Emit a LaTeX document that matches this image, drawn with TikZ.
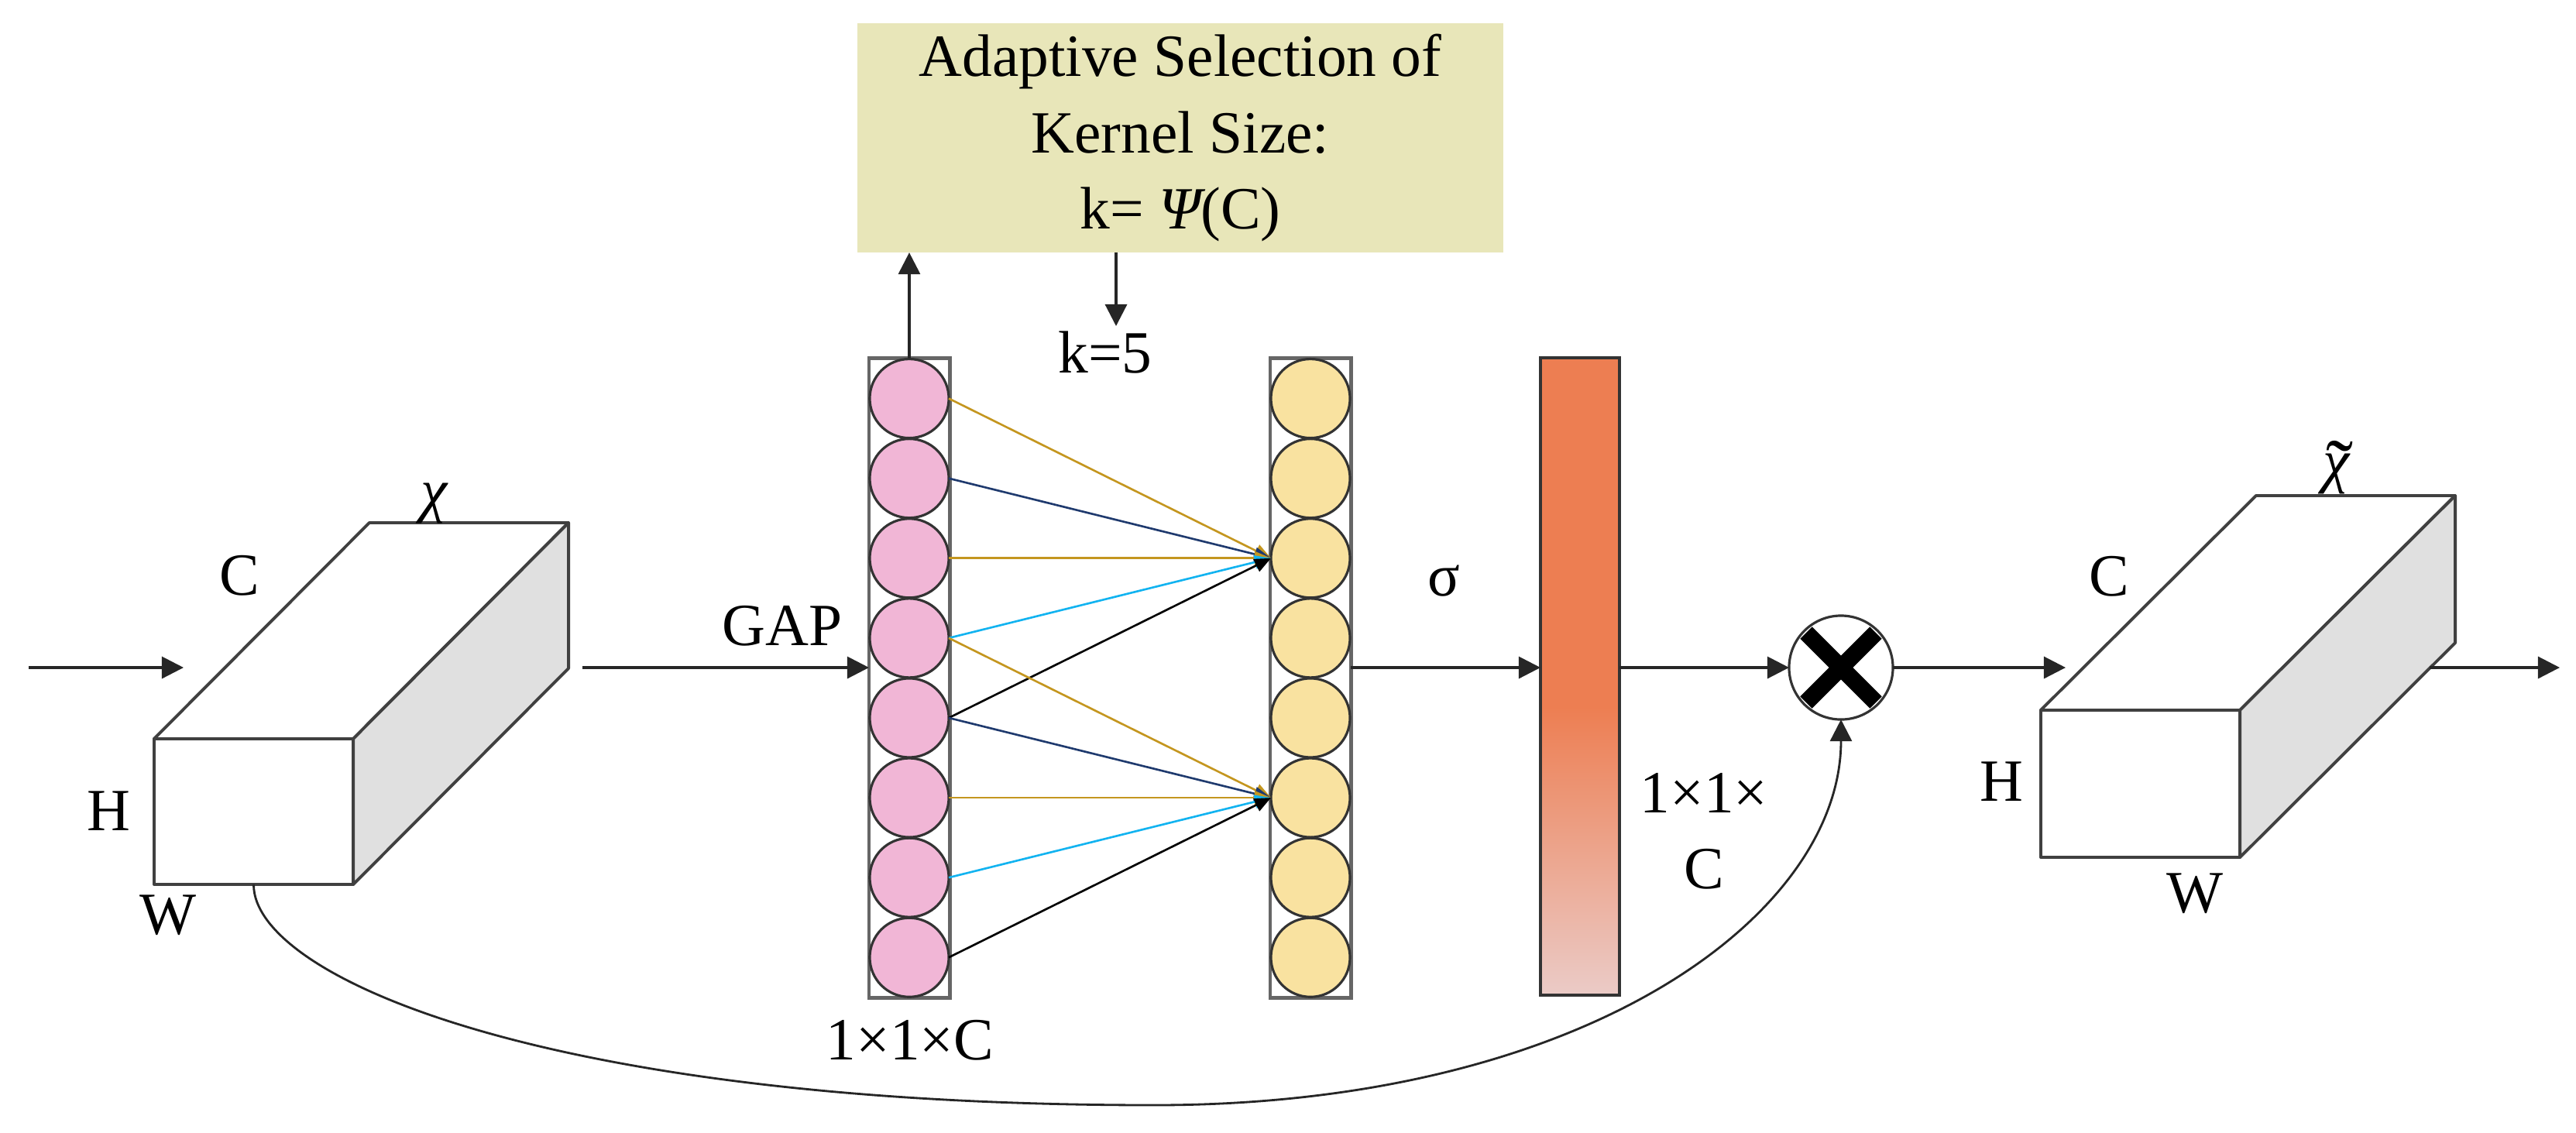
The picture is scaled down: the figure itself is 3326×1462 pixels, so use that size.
\documentclass[tikz,border=0pt]{standalone}
\usepackage{fontspec}
\setmainfont{Liberation Serif}
\usetikzlibrary{arrows.meta,calc}
\definecolor{boxbg}{HTML}{E8E6B9}
\definecolor{pinkc}{HTML}{F1B6D6}
\definecolor{yelc}{HTML}{F9E2A0}
\definecolor{barTop}{HTML}{ED7E52}
\definecolor{barMid}{HTML}{DFADA6}
\definecolor{barBot}{HTML}{EBCBC7}
\definecolor{sideg}{HTML}{E0E0E0}
\definecolor{cgold}{HTML}{C4961F}
\definecolor{cnavy}{HTML}{1F3A6E}
\definecolor{ccyan}{HTML}{12B3F0}
\begin{document}
\begin{tikzpicture}[x=0.01cm,y=-0.01cm,
  every node/.style={font=\fontsize{22}{28}\selectfont, inner sep=0pt, outer sep=0pt},
  conn/.style={line width=0.9pt, draw=black!85},
  arr/.style={conn, -{Triangle[length=8pt,width=8pt]}},
  sarr/.style={line width=0.75pt, -{Triangle[length=6pt,width=5pt]}},
  edge/.style={draw=black!75, line width=1.1pt, line join=round},
  face/.style={edge, fill=white, minimum width=2.57cm},
  col/.style={draw=black!60, line width=1.4pt, minimum width=1.04cm, minimum height=8.25cm},
  ball/.style={circle, draw=black!80, line width=0.9pt, minimum size=1.02cm}
]
\useasboundingbox (0,0) rectangle (3326,1462);

% ---------- left cuboid ----------
\node[face, minimum height=1.88cm] (b1) at (327.5,1048) {};
\draw[edge, fill=white] (b1.north west) -- ++(278,-279) -- ++(257,0) -- (b1.north east) -- cycle;
\draw[edge, fill=sideg] (b1.north east) -- ++(278,-279) -- ++(0,188) -- (b1.south east) -- cycle;
\node (chi1) at (561,650) {\itshape χ};
\node (c1) at (309,743) {C};
\node (h1) at (140,1047) {H};
\node (w1) at (217,1182) {W};

\coordinate (in0) at (37,862);
\coordinate (in1) at (237,862);
\draw[arr] (in0) -- (in1);
\coordinate (b1o) at (752,862);

% ---------- kernel-size box ----------
\node[fill=boxbg, minimum width=8.33cm, minimum height=2.96cm, align=center,
      font=\fontsize{22}{27.9}\selectfont] (asks) at (1524,178)
      {Adaptive Selection of\\Kernel Size:\\k= {\itshape Ψ}(C)};

% ---------- pink column ----------
\node[col] (col1) at (1174,875.5) {};
\foreach \i in {1,...,8}
  \node[ball, fill=pinkc] (p\i) at (1174,{463+103.1*(\i-0.5)}) {};
% ---------- yellow column ----------
\node[col] (col2) at (1692,875.5) {};
\foreach \i in {1,...,8}
  \node[ball, fill=yelc] (q\i) at (1692,{463+103.1*(\i-0.5)}) {};

\foreach \s/\c in {1/cgold,2/cnavy,3/cgold,4/ccyan,5/black}
  \draw[sarr, draw=\c] (p\s.east) -- (q3.west);
\foreach \s/\c in {4/cgold,5/cnavy,6/cgold,7/ccyan,8/black}
  \draw[sarr, draw=\c] (p\s.east) -- (q6.west);

\draw[arr] (b1o) -- (b1o -| col1.west);
\node (gap) at (1010,808) {GAP};
\node (dim1) at (1175,1343) {1×1×C};

\draw[arr] (col1.north) -- (col1.north |- asks.south);
\coordinate (kd) at (1441,421);
\draw[arr] (kd |- asks.south) -- (kd);
\node (k5) at (1427,455) {k=5};

% ---------- sigmoid bar ----------
\fill[barTop] (1989,462) rectangle (2091,914);
\shade[top color=barTop, middle color=barMid, bottom color=barBot] (1989,913) rectangle (2091,1285);
\node[draw=black!80, line width=1.1pt, minimum width=1.02cm, minimum height=8.23cm] (bar) at (2040,873.5) {};
\node (sig) at (1864,750) {σ};
\draw[arr] (col2.east |- b1o) -- (bar.west |- b1o);
\node (dim2a) at (2200,1024) {1×1×};
\node (dim2b) at (2200,1122) {C};

% ---------- multiplication ----------
\node[circle, draw=black!80, line width=0.9pt, minimum size=1.34cm, fill=white] (mul) at (2377,862) {};
\draw[line width=6.2pt] ([shift={(-45,-45)}]mul.center) -- ([shift={(45,45)}]mul.center);
\draw[line width=6.2pt] ([shift={(-45,45)}]mul.center) -- ([shift={(45,-45)}]mul.center);
\draw[arr] (bar.east |- b1o) -- (mul.west);

% ---------- right cuboid ----------
\node[face, minimum height=1.9cm] (b2) at (2763.5,1012) {};
\draw[edge, fill=white] (b2.north west) -- ++(278,-277) -- ++(257,0) -- (b2.north east) -- cycle;
\draw[edge, fill=sideg] (b2.north east) -- ++(278,-277) -- ++(0,190) -- (b2.south east) -- cycle;
\node (chi2) at (3016,612) {\itshape χ};
\node[anchor=base, font=\fontsize{30}{30}\selectfont] (chi2t) at (3021,640) {\char"02DC};
\node (c2) at (2723,744) {C};
\node (h2) at (2584,1009) {H};
\node (w2) at (2834,1154) {W};

\coordinate (b2i) at (2667,862);
\draw[arr] (mul.east) -- (b2i);
\coordinate (o1) at (3137,862);
\coordinate (o2) at (3305,862);
\draw[arr] (o1) -- (o2);

% ---------- skip connection ----------
\draw[arr, line width=0.8pt] (b1.south) .. controls (327,1260) and (700,1427) .. (1490,1427)
   .. controls (2050,1427) and (2377,1180) .. (mul.south);
\end{tikzpicture}
\end{document}
